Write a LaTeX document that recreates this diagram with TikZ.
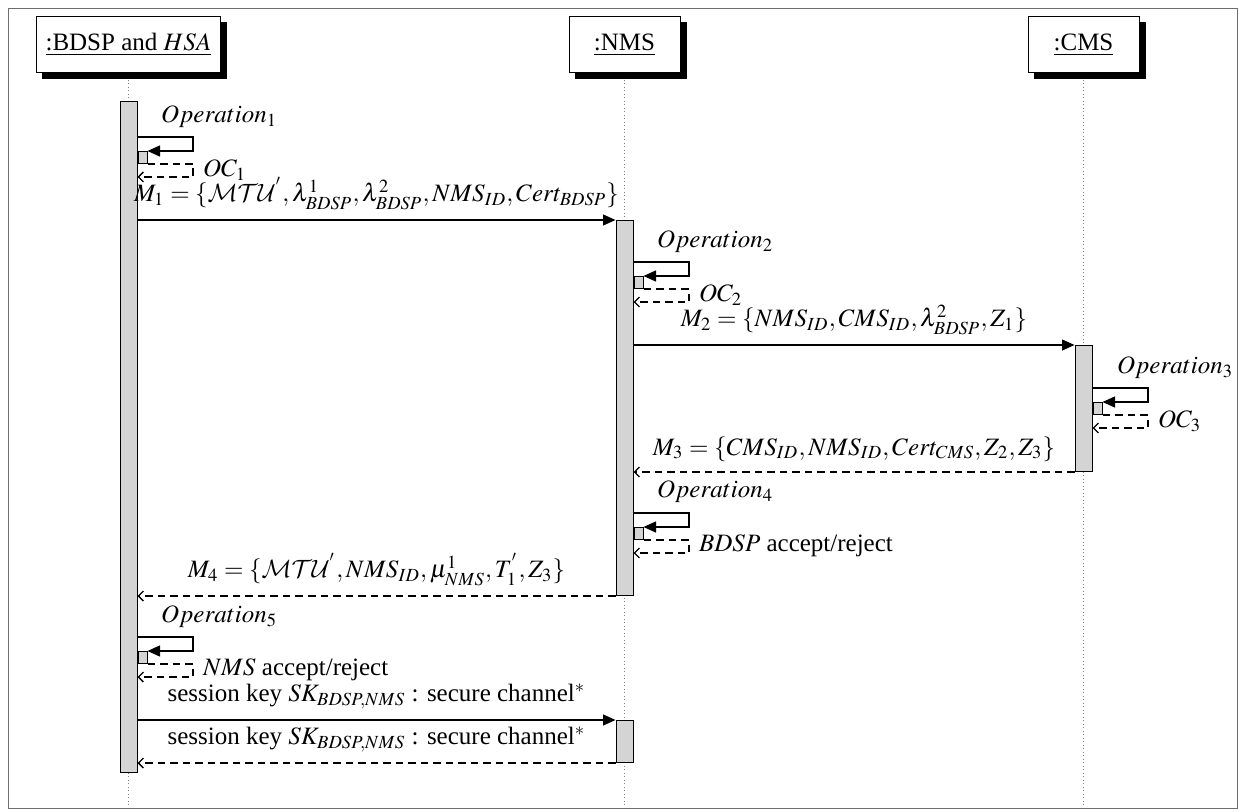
\documentclass[tikz,border=0pt]{standalone}
\usepackage{mathptmx}
\DeclareMathAlphabet{\mathcal}{OMS}{cmsy}{m}{n}
\usepackage{fontspec}
\setmainfont{Liberation Serif}
\usetikzlibrary{arrows.meta, positioning, backgrounds}
\definecolor{barfill}{RGB}{212,212,212}
\definecolor{framegray}{RGB}{110,110,110}

\begin{document}
\begin{tikzpicture}[
  x=0.4pt, y=-0.4pt,
  head/.style={rectangle, draw, fill=white, minimum height=22.4pt, inner sep=2pt},
  shade/.style={fill=black},
  bar/.style={rectangle, draw, fill=barfill, minimum width=6.8pt, inner sep=0pt,
              anchor=north},
  subbar/.style={rectangle, draw, fill=barfill, minimum width=3.6pt,
                 minimum height=4.8pt, inner sep=0pt, anchor=north west},
  life/.style={densely dotted, gray, shorten <=2.5pt},
  msg/.style={line width=0.5pt, -{Triangle[length=5pt, width=4.4pt]}},
  ret/.style={line width=0.5pt, dash pattern=on 3pt off 2pt,
              -{Straight Barb[length=2pt, width=4pt]}},
  lbl/.style={inner sep=1pt, anchor=west},
  mlbl/.style={midway, above=3pt, inner sep=1pt}
]
\useasboundingbox (0,0) rectangle (1239,812);

% Frame
\draw[framegray] (8,9) rectangle (1237,808);

% Lifeline heads
\node[head, minimum width=73.2pt] (bdsp) at (128.5,45) {\underline{:BDSP and $HSA$}};
\node[head, minimum width=44.4pt] (nms) at (624.5,45) {\underline{:NMS}};
\node[head, minimum width=44.4pt] (cms) at (1083.5,45) {\underline{:CMS}};

% Shadows of the heads
\begin{scope}[on background layer]
  \fill[shade] ([shift={(2.4pt,-2.4pt)}]bdsp.south west) rectangle ([shift={(2.4pt,-2.4pt)}]bdsp.north east);
  \fill[shade] ([shift={(2.4pt,-2.4pt)}]nms.south west) rectangle ([shift={(2.4pt,-2.4pt)}]nms.north east);
  \fill[shade] ([shift={(2.4pt,-2.4pt)}]cms.south west) rectangle ([shift={(2.4pt,-2.4pt)}]cms.north east);
\end{scope}

% Lifelines
\coordinate (bdspend) at (128.5,805);
\coordinate (nmsend) at (624.5,805);
\coordinate (cmsend) at (1083.5,805);
\draw[life] (bdsp) -- (bdspend);
\draw[life] (nms) -- (nmsend);
\draw[life] (cms) -- (cmsend);

% Activation bars
\node[bar, minimum height=268.4pt] (bdspbar) at (128.5,101) {};
\node[bar, minimum height=150pt] (nmsbar) at (624.5,220) {};
\node[bar, minimum height=50.4pt] (cmsbar) at (1083.5,345) {};
\node[bar, minimum height=16.8pt] (nmsbarb) at (624.5,720) {};

% Operation 1
\node[lbl] (op1) at (158,117) {$Operation_1$};
\coordinate (s1t) at (193,137);
\coordinate (s1m) at (193,151);
\coordinate (s1b) at (193,177);
\node[subbar] (sub1) at (bdspbar.east |- s1m) {};
\draw[msg] (bdspbar.east |- s1t) -- (s1t) -- (s1m) -- (sub1.north east);
\draw[ret] (sub1.south east) -| (s1b) -- (bdspbar.east |- s1b);
\node[lbl] (oc1) at (200,170) {$OC_1$};

% M1
\draw[msg] (bdspbar.east |- nmsbar.north west) -- node[mlbl] (m1lbl)
  {$M_1=\{\mathcal{MTU}^{'},\lambda^1_{BDSP},\lambda^2_{BDSP},NMS_{ID},Cert_{BDSP}\}$}
  (nmsbar.north west);

% Operation 2
\node[lbl] (op2) at (654,242) {$Operation_2$};
\coordinate (s2t) at (689,262);
\coordinate (s2m) at (689,276);
\coordinate (s2b) at (689,302);
\node[subbar] (sub2) at (nmsbar.east |- s2m) {};
\draw[msg] (nmsbar.east |- s2t) -- (s2t) -- (s2m) -- (sub2.north east);
\draw[ret] (sub2.south east) -| (s2b) -- (nmsbar.east |- s2b);
\node[lbl] (oc2) at (696,295) {$OC_2$};

% M2
\draw[msg] (nmsbar.east |- cmsbar.north west) -- node[mlbl] (m2lbl)
  {$M_2=\{NMS_{ID},CMS_{ID},\lambda^2_{BDSP},Z_1\}$}
  (cmsbar.north west);

% Operation 3
\node[lbl] (op3) at (1114,368) {$Operation_3$};
\coordinate (s3t) at (1148,388);
\coordinate (s3m) at (1148,402);
\coordinate (s3b) at (1148,428);
\node[subbar] (sub3) at (cmsbar.east |- s3m) {};
\draw[msg] (cmsbar.east |- s3t) -- (s3t) -- (s3m) -- (sub3.north east);
\draw[ret] (sub3.south east) -| (s3b) -- (cmsbar.east |- s3b);
\node[lbl] (oc3) at (1155,421) {$OC_3$};

% M3
\draw[ret] (cmsbar.south west) -- node[mlbl] (m3lbl)
  {$M_3=\{CMS_{ID},NMS_{ID},Cert_{CMS},Z_2,Z_3\}$}
  (nmsbar.east |- cmsbar.south west);

% Operation 4
\node[lbl] (op4) at (654,492) {$Operation_4$};
\coordinate (s4t) at (689,513);
\coordinate (s4m) at (689,527);
\coordinate (s4b) at (689,553);
\node[subbar] (sub4) at (nmsbar.east |- s4m) {};
\draw[msg] (nmsbar.east |- s4t) -- (s4t) -- (s4m) -- (sub4.north east);
\draw[ret] (sub4.south east) -| (s4b) -- (nmsbar.east |- s4b);
\node[lbl] (acc4) at (696,546) {$BDSP$ accept/reject};

% M4
\draw[ret] (nmsbar.south west) -- node[mlbl] (m4lbl)
  {$M_4=\{\mathcal{MTU}^{'},NMS_{ID},\mu^1_{NMS},T^{'}_1,Z_3\}$}
  (bdspbar.east |- nmsbar.south west);

% Operation 5
\node[lbl] (op5) at (158,617) {$Operation_5$};
\coordinate (s5t) at (193,637);
\coordinate (s5m) at (193,651);
\coordinate (s5b) at (193,677);
\node[subbar] (sub5) at (bdspbar.east |- s5m) {};
\draw[msg] (bdspbar.east |- s5t) -- (s5t) -- (s5m) -- (sub5.north east);
\draw[ret] (sub5.south east) -| (s5b) -- (bdspbar.east |- s5b);
\node[lbl] (acc5) at (200,670) {$NMS$ accept/reject};

% Session key
\draw[msg] (bdspbar.east |- nmsbarb.north west) -- node[mlbl] (sk1lbl)
  {session key $SK_{BDSP,NMS}$ : secure channel$^*$}
  (nmsbarb.north west);
\draw[ret] (nmsbarb.south west) -- node[mlbl] (sk2lbl)
  {session key $SK_{BDSP,NMS}$ : secure channel$^*$}
  (bdspbar.east |- nmsbarb.south west);

\end{tikzpicture}
\end{document}
